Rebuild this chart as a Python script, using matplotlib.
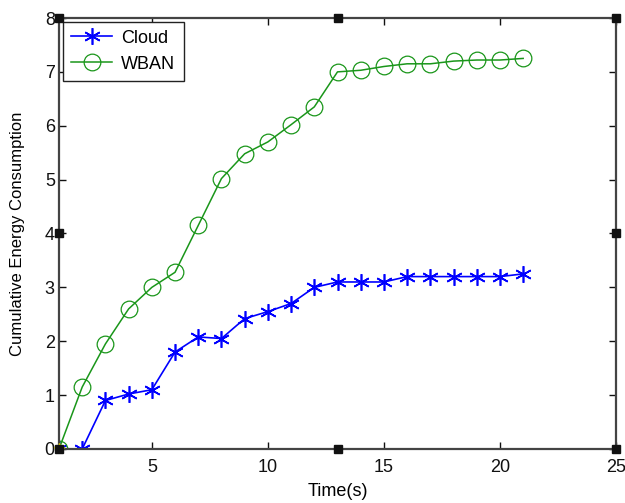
import matplotlib.pyplot as plt

plt.rcParams['font.family'] = ['Liberation Sans', 'DejaVu Sans']

time = list(range(1, 22))
cloud = [0, 0, 0.9, 1.02, 1.1, 1.8, 2.08, 2.05, 2.42, 2.55, 2.7, 3.0,
         3.1, 3.1, 3.1, 3.2, 3.2, 3.2, 3.2, 3.2, 3.25]
wban = [0, 1.15, 1.95, 2.6, 3.0, 3.28, 4.15, 5.02, 5.48, 5.7, 6.02, 6.35,
        7.0, 7.03, 7.1, 7.15, 7.15, 7.2, 7.22, 7.22, 7.25]
xticks = [5, 10, 15, 20, 25]
yticks = [0, 1, 2, 3, 4, 5, 6, 7, 8]

fig = plt.figure(figsize=(6.25, 5.03), dpi=100)
ax = fig.add_axes([0.0944, 0.1074, 0.8912, 0.8568])

asterisk = (6, 2, 0)
ax.plot(time, cloud, '-', marker=asterisk, color='#0000ff', lw=1.2, ms=12,
        mew=1.2, label='Cloud')
ax.plot(time, wban, '-o', color='#1a961a', lw=1.1, ms=12, mew=0.9,
        fillstyle='none', label='WBAN')
# little yellow marker at the origin
ax.plot([time[0]], [0], '*', color='#f0e000', ms=8, zorder=5, clip_on=False)

ax.set_xlim(1, 25)
ax.set_ylim(0, 8)
ax.set_xticks(xticks)
ax.set_yticks(yticks)
ax.tick_params(direction='in', length=5, width=1, top=True, right=True,
               labelsize=13, colors='#111111')
ax.tick_params(axis='x', pad=7)
ax.tick_params(axis='y', pad=3)
for s in ax.spines.values():
    s.set_color('#444444')
    s.set_linewidth(1.6)

ax.set_xlabel('Time(s)', fontsize=13, labelpad=5)
ax.set_ylabel('Cumulative Energy Consumption', fontsize=12, labelpad=14)

leg = ax.legend(loc='upper left', fontsize=13, fancybox=False, framealpha=1,
                edgecolor='#222222', borderaxespad=0.2, handlelength=2.3,
                labelspacing=0.5, borderpad=0.45, handletextpad=0.5)
leg.get_frame().set_linewidth(1.0)

# selection handles (figure was captured in edit mode)
hx = [0, 0.5, 1, 0, 1, 0, 0.5, 1]
hy = [0, 0, 0, 0.5, 0.5, 1, 1, 1]
ax.plot(hx, hy, 's', color='#111111', ms=5.5, transform=ax.transAxes,
        clip_on=False, zorder=6, ls='none')

fig.savefig('out.png', dpi=100)
